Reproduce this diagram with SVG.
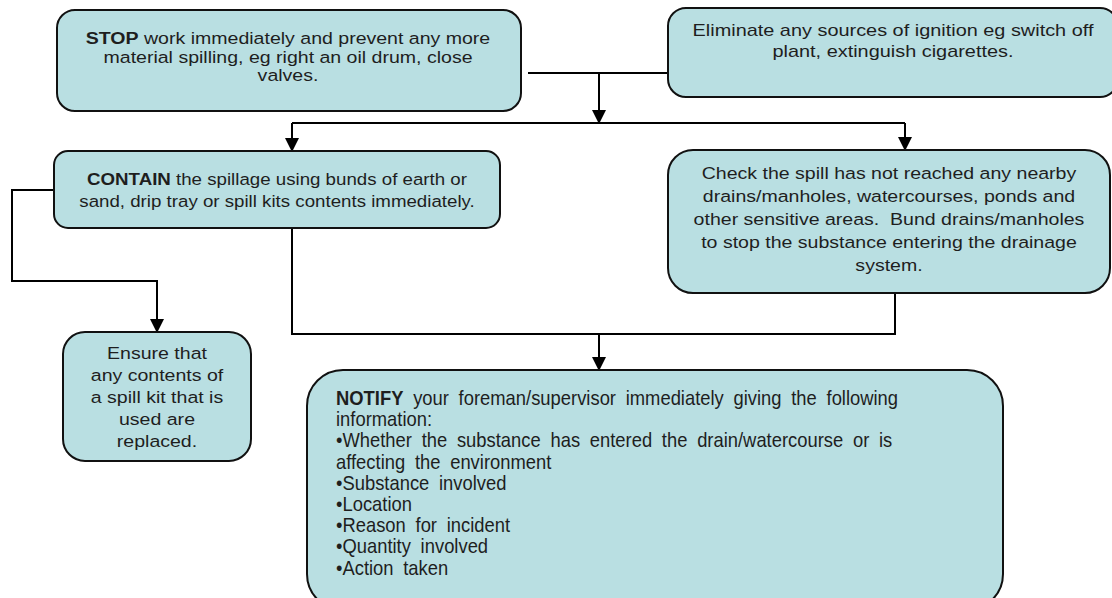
<svg xmlns="http://www.w3.org/2000/svg" width="1112" height="598" viewBox="0 0 1112 598">
<style>
.box{fill:#b9dfe2;stroke:#111;stroke-width:2}
.t{font-family:"Liberation Sans",Arial,sans-serif;font-size:17px;fill:#1e1e1e;text-anchor:middle}
.n{font-family:"Liberation Sans",Arial,sans-serif;font-size:20px;fill:#1e1e1e;word-spacing:5px}
.b{font-weight:bold}
.c{fill:none;stroke:#000;stroke-width:2}
</style>
<defs>
<marker id="ah" markerUnits="userSpaceOnUse" markerWidth="14" markerHeight="14" refX="13" refY="7" orient="auto">
<path d="M0,0 L14,7 L0,14 z" fill="#000"/>
</marker>
</defs>
<g id="connectors">
<path class="c" d="M528,73 H668"/>
<path class="c" d="M599,73 V123" marker-end="url(#ah)"/>
<path class="c" d="M292,123 H905"/>
<path class="c" d="M292,123 V151" marker-end="url(#ah)"/>
<path class="c" d="M905,123 V150" marker-end="url(#ah)"/>
<path class="c" d="M54,190 H12 V281 H157 V332" marker-end="url(#ah)"/>
<path class="c" d="M292,228 V334 H895 V293"/>
<path class="c" d="M599,334 V370" marker-end="url(#ah)"/>
</g>
<g id="stop">
<rect class="box" x="57" y="10" width="464" height="101" rx="18"/>
<g transform="translate(288,0) scale(1.15,1)">
<text class="t" x="0" y="44"><tspan class="b">STOP</tspan> work immediately and prevent any more</text>
<text class="t" x="0" y="63">material spilling, eg right an oil drum, close</text>
<text class="t" x="0" y="81">valves.</text>
</g>
</g>
<g id="eliminate">
<rect class="box" x="668" y="8" width="450" height="89" rx="18"/>
<g transform="translate(893,0) scale(1.17,1)">
<text class="t" x="0" y="36">Eliminate any sources of ignition eg switch off</text>
<text class="t" x="0" y="57">plant, extinguish cigarettes.</text>
</g>
</g>
<g id="contain">
<rect class="box" x="54" y="151" width="446" height="77" rx="14"/>
<g transform="translate(277,0) scale(1.1,1)">
<text class="t" x="0" y="185"><tspan class="b">CONTAIN</tspan> the spillage using bunds of earth or</text>
<text class="t" x="0" y="207">sand, drip tray or spill kits contents immediately.</text>
</g>
</g>
<g id="check">
<rect class="box" x="668" y="150" width="442" height="143" rx="25"/>
<g transform="translate(889,0) scale(1.15,1)">
<text class="t" x="0" y="179">Check the spill has not reached any nearby</text>
<text class="t" x="0" y="202">drains/manholes, watercourses, ponds and</text>
<text class="t" x="0" y="225">other sensitive areas.&#160; Bund drains/manholes</text>
<text class="t" x="0" y="248">to stop the substance entering the drainage</text>
<text class="t" x="0" y="271">system.</text>
</g>
</g>
<g id="ensure">
<rect class="box" x="63" y="332" width="188" height="129" rx="22"/>
<g transform="translate(157,0) scale(1.15,1)">
<text class="t" x="0" y="359">Ensure that</text>
<text class="t" x="0" y="381">any contents of</text>
<text class="t" x="0" y="403">a spill kit that is</text>
<text class="t" x="0" y="425">used are</text>
<text class="t" x="0" y="447">replaced.</text>
</g>
</g>
<g id="notify">
<rect class="box" x="307" y="370" width="696" height="240" rx="36"/>
<g transform="translate(336,0) scale(0.92,1)">
<text class="n" x="0" y="405"><tspan class="b">NOTIFY</tspan> your foreman/supervisor immediately giving the following</text>
<text class="n" x="0" y="426.2">information:</text>
<text class="n" x="0" y="447.4">•Whether the substance has entered the drain/watercourse or is</text>
<text class="n" x="0" y="468.6">affecting the environment</text>
<text class="n" x="0" y="489.8">•Substance involved</text>
<text class="n" x="0" y="511">•Location</text>
<text class="n" x="0" y="532.2">•Reason for incident</text>
<text class="n" x="0" y="553.4">•Quantity involved</text>
<text class="n" x="0" y="574.6">•Action taken</text>
</g>
</g>
</svg>
